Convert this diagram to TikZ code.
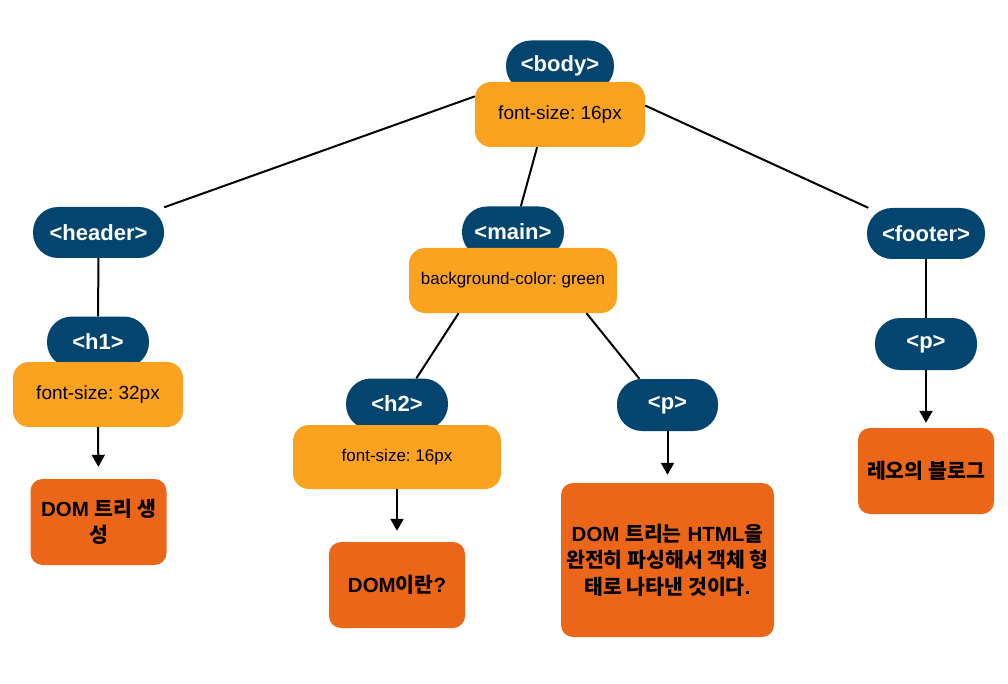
\documentclass[tikz,border=0pt]{standalone}
\usepackage{fontspec}
\setmainfont{Liberation Sans}
\newfontfamily\kor{Noto Sans CJK KR}
\usetikzlibrary{arrows.meta}
\definecolor{tagblue}{HTML}{03456F}
\definecolor{cssorange}{HTML}{FBA321}
\definecolor{textorange}{HTML}{EC661A}
\frenchspacing

\begin{document}
\begin{tikzpicture}[x=1pt, y=-1pt,
  tag/.style={fill=tagblue, text=white, rounded corners=25pt, minimum height=51pt, inner sep=0pt, font=\fontsize{22}{26}\selectfont\bfseries},
  css/.style={fill=cssorange, rounded corners=16pt, minimum width=170pt, minimum height=65pt, inner sep=0pt, font=\fontsize{19}{23}\selectfont},
  content/.style={fill=textorange, rounded corners=12pt, minimum width=136pt, minimum height=86pt, inner sep=0pt, align=center, font=\fontsize{20.5}{26.5}\selectfont\bfseries},
  link/.style={line width=2pt},
  flow/.style={line width=2pt, -{Triangle[width=13pt,length=12pt]}}]
\useasboundingbox (0,0) rectangle (1008,684);
\node [tag, minimum width=108pt] (body) at (560,66) {<body>};
\node [css] (bodycss) at (560,114.5) {font-size: 16px};
\node [tag, minimum width=131pt] (header) at (98.5,232.5) {<header>};
\node [tag, minimum width=102pt] (h1) at (98,342) {<h1>};
\node [css] (h1css) at (98,394.5) {font-size: 32px};
\node [content] (h1text) at (98.5,522) {DOM {\kor 트리 생}\\{\kor 성}};
\node [tag, minimum width=102pt] (main) at (513,232) {<main>};
\node [css, minimum width=208pt, font=\fontsize{17}{21}\selectfont] (maincss) at (513,280.5) {background-color: green};
\node [tag, minimum width=102pt] (h2) at (397,404) {<h2>};
\node [css, minimum width=208pt, minimum height=64pt, font=\fontsize{17}{21}\selectfont] (h2css) at (397,457) {font-size: 16px};
\node [content] (h2text) at (397,585) {DOM{\kor 이란}?};
\node [tag, minimum width=101pt, minimum height=52pt] (p) at (667.5,405) {<p>};
\node [content, minimum width=213pt, minimum height=154pt] (ptext) at (667.5,560) {DOM {\kor 트리는} HTML{\kor 을}\\{\kor 완전히 파싱해서 객체 형}\\{\kor 태로 나타낸 것이다}.};
\node [tag, minimum width=118pt] (footer) at (926,233.5) {<footer>};
\node [tag, minimum width=102pt, minimum height=52pt] (fp) at (926,344) {<p>};
\node [content] (ftext) at (926,471) {{\kor 레오의 블로그}};
\draw [link] (bodycss.168) -- (header.21);
\draw [link] (bodycss.-125) -- (main.73);
\draw [link] (bodycss.6) -- (footer.156);
\draw [link] (header.south) -- (h1.north);
\draw [link] (maincss.-149) -- (h2.53);
\draw [link] (maincss.-24) -- (p.137);
\draw [link] (footer.south) -- (fp.north);
\draw [flow, shorten >=12pt] (h1css.south) -- (h1text.north);
\draw [flow, shorten >=11pt] (h2css.south) -- (h2text.north);
\draw [flow, shorten >=8pt] (p.south) -- (ptext.north);
\draw [flow, shorten >=5pt] (fp.south) -- (ftext.north);
\end{tikzpicture}
\end{document}
